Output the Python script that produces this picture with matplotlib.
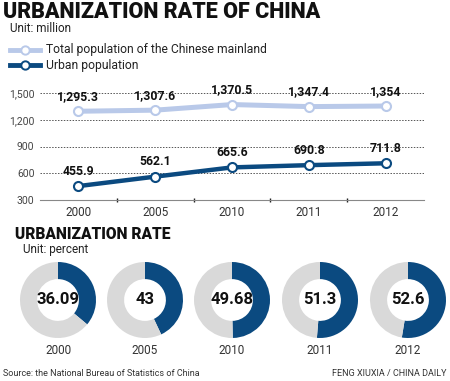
import matplotlib
matplotlib.use("Agg")
import matplotlib.pyplot as plt

# Data
years = ["2000", "2005", "2010", "2011", "2012"]
total_pop = [1295.3, 1307.6, 1370.5, 1347.4, 1354]
urban_pop = [455.9, 562.1, 665.6, 690.8, 711.8]
total_labels = ["1,295.3", "1,307.6", "1,370.5", "1,347.4", "1,354"]
urban_labels = ["455.9", "562.1", "665.6", "690.8", "711.8"]
rate = [36.09, 43, 49.68, 51.3, 52.6]
rate_labels = ["36.09", "43", "49.68", "51.3", "52.6"]
yticks = [300, 600, 900, 1200, 1500]
ytick_labels = ["300", "600", "900", "1,200", "1,500"]

dark = "#0b4a80"
light = "#b9c9e9"
grey = "#d9d9d9"

plt.rcParams["font.family"] = ["Roboto", "DejaVu Sans"]

W, H = 450, 381
fig = plt.figure(figsize=(4.5, 3.81), dpi=100)

def fx(px):
    return px / W

def fy(py):
    return 1 - py / H

# Titles
fig.text(fx(3), fy(12), "URBANIZATION RATE OF CHINA", fontsize=15.5,
         fontweight="black", va="center", ha="left", color="#111111")
fig.text(fx(10), fy(29), "Unit: million", fontsize=8.5, va="center", color="#222222")

# Legend drawn by hand
for yy, col in [(50, light), (65, dark)]:
    fig.add_artist(plt.Line2D([fx(10), fx(40)], [fy(yy), fy(yy)], color=col, lw=3.5,
                              transform=fig.transFigure))
    fig.add_artist(plt.Line2D([fx(25)], [fy(yy)], color=col, marker="o", ms=6,
                              mfc="white", mew=1.4, lw=0, transform=fig.transFigure))
fig.text(fx(46), fy(50), "Total population of the Chinese mainland", fontsize=8.7,
         va="center", color="#222222")
fig.text(fx(46), fy(65), "Urban population", fontsize=8.7, va="center", color="#222222")

# Line chart
ax = fig.add_axes([fx(40), fy(200), fx(424) - fx(40), fy(93) - fy(200)])
x = list(range(len(years)))
ax.plot(x, total_pop, color=light, lw=3.6, marker="o", ms=6.5, mfc="white",
        mec=light, mew=1.5, clip_on=False, zorder=3)
ax.plot(x, urban_pop, color=dark, lw=3.2, marker="o", ms=6.5, mfc="white",
        mec=dark, mew=1.5, clip_on=False, zorder=3)
for i in x:
    ax.annotate(total_labels[i], (i, total_pop[i]), xytext=(0, 6),
                textcoords="offset points", ha="center", va="bottom",
                fontsize=8.8, fontweight="bold", color="#111111")
    ax.annotate(urban_labels[i], (i, urban_pop[i]), xytext=(0, 6),
                textcoords="offset points", ha="center", va="bottom",
                fontsize=8.8, fontweight="bold", color="#111111")
ax.set_xlim(-0.5, 4.5)
ax.set_ylim(300, 1500)
ax.set_yticks(yticks)
ax.set_yticklabels(ytick_labels, fontsize=7.5, color="#444444")
for yv in yticks[1:]:
    ax.axhline(yv, color="#555555", lw=0.7, ls=(0, (1.5, 1.5)), zorder=1)
ax.set_xticks(x)
ax.set_xticklabels(years, fontsize=8.5, color="#333333")
ax.set_xticks([0.5, 1.5, 2.5, 3.5], minor=True)
ax.tick_params(axis="x", which="major", length=0, pad=4)
ax.tick_params(axis="x", which="minor", length=3, width=1, direction="inout", color="#222222")
ax.tick_params(axis="y", length=0, pad=4)
for s in ["top", "right", "left"]:
    ax.spines[s].set_visible(False)
ax.spines["bottom"].set_color("#888888")
ax.spines["bottom"].set_linewidth(0.8)

# Urbanization rate donuts
fig.text(fx(15), fy(234), "URBANIZATION RATE", fontsize=11.2, fontweight="black",
         va="center", ha="left", color="#111111")
fig.text(fx(23), fy(250), "Unit: percent", fontsize=8.5, va="center", color="#222222")

centers = [58, 145, 232, 320, 408]
r_px = 38
for cx, val, lab, yr in zip(centers, rate, rate_labels, years):
    dax = fig.add_axes([fx(cx - r_px), fy(300 + r_px), 2 * r_px / W, 2 * r_px / H])
    dax.pie([val, 100 - val], colors=[dark, grey], startangle=90, counterclock=False,
            wedgeprops=dict(width=0.45, linewidth=0))
    dax.set_xlim(-1, 1)
    dax.set_ylim(-1, 1)
    dax.set_aspect("equal")
    dax.text(0, 0, lab, ha="center", va="center", fontsize=12, fontweight="bold",
             color="#111111")
    fig.text(fx(cx), fy(350), yr, ha="center", va="center", fontsize=8.5, color="#333333")

fig.text(fx(3), fy(373), "Source: the National Bureau of Statistics of China",
         fontsize=6.5, va="center", color="#333333")
fig.text(fx(447), fy(374), "FENG XIUXIA / CHINA DAILY", fontsize=6.5, va="center",
         ha="right", color="#333333")

fig.savefig("out.png", dpi=100)
